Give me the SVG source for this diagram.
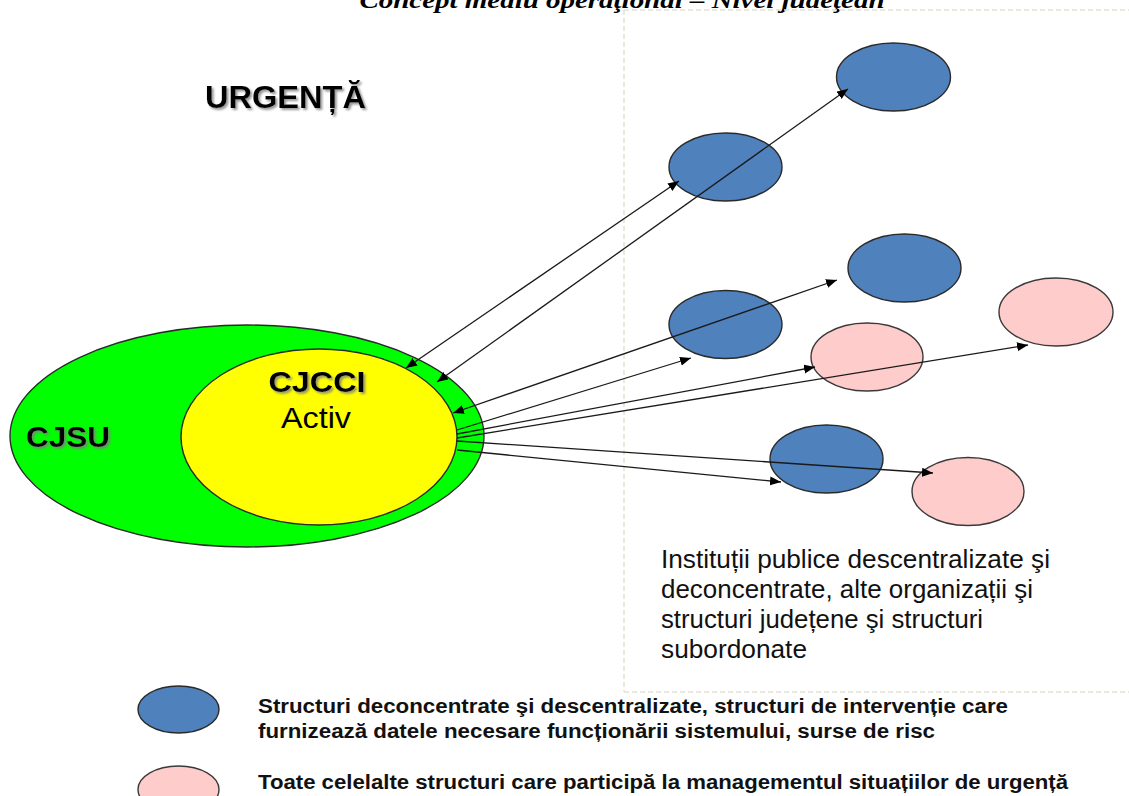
<svg xmlns="http://www.w3.org/2000/svg" width="1129" height="796" viewBox="0 0 1129 796">
<defs>
<style>
.frame{fill:none;stroke:#e2e2d6;stroke-width:1.5;stroke-dasharray:5 3}
.blue{fill:#4F81BD;stroke:#2a2a2a;stroke-width:1.4}
.pink{fill:#FFCCCC;stroke:#3a3a3a;stroke-width:1.4}
.conn{stroke:#1a1a1a;stroke-width:1.3;fill:none}
.lbl{font-family:"Liberation Sans",Arial,sans-serif;fill:#000}
.bold{font-weight:bold}
.desc{font-family:"Liberation Sans",Arial,sans-serif;font-size:25px;fill:#111}
.leg{font-family:"Liberation Sans Narrow","Liberation Sans",Arial,sans-serif;font-size:20px;font-weight:bold;fill:#111}
</style>
<filter id="shadow" x="-10%" y="-20%" width="130%" height="150%">
<feDropShadow dx="2" dy="2" stdDeviation="1" flood-color="#7f7f7f" flood-opacity="0.8"/>
</filter>
<marker id="arr" markerUnits="userSpaceOnUse" markerWidth="12" markerHeight="10" refX="11" refY="4.5" orient="auto-start-reverse">
<path d="M0,0 L11,4.5 L0,9 z" fill="#000"/>
</marker>
</defs>

<text x="622" y="7.5" text-anchor="middle" font-family="'Liberation Serif','Times New Roman',serif" font-size="24" font-weight="bold" font-style="italic" textLength="525" lengthAdjust="spacingAndGlyphs">Concept mediu operaţional – Nivel judeţean</text>

<path class="frame" d="M624,10 L1129,10 M624,10 L624,692 M624,692 L1129,692"/>

<text class="lbl bold" x="205" y="108" font-size="32" filter="url(#shadow)" textLength="161" lengthAdjust="spacingAndGlyphs">URGENȚĂ</text>

<g id="cjsu">
<ellipse cx="247" cy="436" rx="237" ry="111" fill="#00FF00" stroke="#2a2a2a" stroke-width="1.4"/>
<text class="lbl bold" x="26" y="447" font-size="30" filter="url(#shadow)" textLength="84" lengthAdjust="spacingAndGlyphs">CJSU</text>
</g>

<g id="cjcci">
<ellipse cx="319" cy="437" rx="138" ry="88" fill="#FFFF00" stroke="#2a2a2a" stroke-width="1.4"/>
<text class="lbl bold" x="317" y="392" font-size="30" text-anchor="middle" filter="url(#shadow)" textLength="97" lengthAdjust="spacingAndGlyphs">CJCCI</text>
<text class="lbl" x="316" y="428" font-size="30" text-anchor="middle" textLength="70" lengthAdjust="spacingAndGlyphs">Activ</text>
</g>

<g id="b1"><ellipse class="blue" cx="893.5" cy="77" rx="57" ry="34"/></g>
<g id="b2"><ellipse class="blue" cx="725.5" cy="167" rx="56.5" ry="34"/></g>
<g id="b3"><ellipse class="blue" cx="904.5" cy="268" rx="56.5" ry="34"/></g>
<g id="b4"><ellipse class="blue" cx="725.5" cy="324.5" rx="56.5" ry="34"/></g>
<g id="p1"><ellipse class="pink" cx="867" cy="357" rx="56" ry="34"/></g>
<g id="p2"><ellipse class="pink" cx="1056" cy="312" rx="57" ry="34"/></g>
<g id="b5"><ellipse class="blue" cx="826.5" cy="459" rx="56.5" ry="34"/></g>
<g id="p3"><ellipse class="pink" cx="968" cy="491.5" rx="56" ry="34"/></g>

<g id="connectors">
<line class="conn" x1="406" y1="368" x2="679" y2="181" marker-start="url(#arr)" marker-end="url(#arr)"/>
<line class="conn" x1="437" y1="382" x2="848" y2="89" marker-start="url(#arr)" marker-end="url(#arr)"/>
<line class="conn" x1="453" y1="413" x2="837" y2="280" marker-start="url(#arr)" marker-end="url(#arr)"/>
<line class="conn" x1="457" y1="430" x2="691" y2="358" marker-end="url(#arr)"/>
<line class="conn" x1="457" y1="434" x2="815" y2="367" marker-end="url(#arr)"/>
<line class="conn" x1="457" y1="438" x2="1028" y2="345" marker-end="url(#arr)"/>
<line class="conn" x1="457" y1="441" x2="933" y2="473" marker-end="url(#arr)"/>
<line class="conn" x1="457" y1="450" x2="781" y2="482" marker-end="url(#arr)"/>
</g>

<g id="description">
<text class="desc" x="661" y="568" textLength="389" lengthAdjust="spacingAndGlyphs">Instituții publice descentralizate şi</text>
<text class="desc" x="661" y="598" textLength="372" lengthAdjust="spacingAndGlyphs">deconcentrate, alte organizații şi</text>
<text class="desc" x="661" y="628" textLength="322" lengthAdjust="spacingAndGlyphs">structuri județene şi structuri</text>
<text class="desc" x="661" y="658" textLength="146" lengthAdjust="spacingAndGlyphs">subordonate</text>
</g>

<g id="legend-blue">
<ellipse class="blue" cx="178.5" cy="709.5" rx="40.5" ry="23.5"/>
<text class="leg" x="258" y="713" textLength="750" lengthAdjust="spacingAndGlyphs">Structuri deconcentrate şi descentralizate, structuri de intervenție care</text>
<text class="leg" x="258" y="738" textLength="677" lengthAdjust="spacingAndGlyphs">furnizează datele necesare funcționării sistemului, surse de risc</text>
</g>
<g id="legend-pink">
<ellipse class="pink" cx="178.5" cy="789.5" rx="40.5" ry="23.5"/>
<text class="leg" x="258" y="789" textLength="810" lengthAdjust="spacingAndGlyphs">Toate celelalte structuri care participă la managementul situațiilor de urgență</text>
</g>
</svg>
